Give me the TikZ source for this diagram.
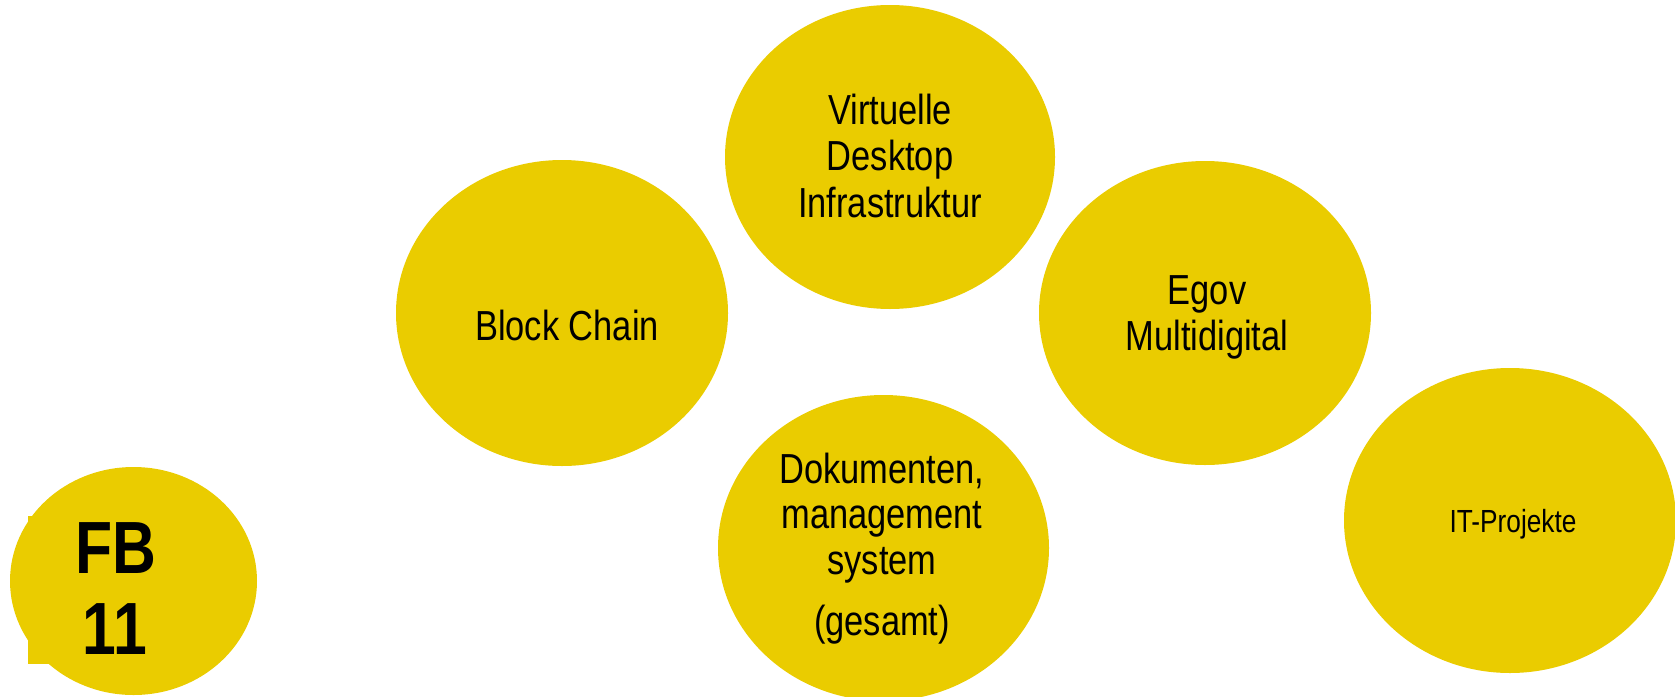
\documentclass[tikz,border=0pt]{standalone}
\usepackage{fontspec}
\setmainfont{Liberation Sans}[FakeStretch=0.82]
\usetikzlibrary{shapes.geometric}
\definecolor{gold}{RGB}{234,204,0}
\tikzset{
  blob/.style={ellipse, fill=gold, draw=none, inner sep=0pt},
  lbl/.style={anchor=base, inner sep=0pt, font=\fontsize{42}{46}\selectfont},
  small/.style={anchor=base, inner sep=0pt, font=\fontsize{32}{36}\selectfont},
  big/.style={anchor=base, inner sep=0pt, font=\fontsize{74}{80}\selectfont\bfseries},
}
\begin{document}
\begin{tikzpicture}[x=1pt, y=-1pt]
\useasboundingbox (0,0) rectangle (1675,696);
\clip (0,0) rectangle (1675,696);
% FB 11
\fill[gold] (28,516) rectangle (200,664);
\node[blob, minimum width=247, minimum height=228] (fb) at (133.5,581) {};
\node[big] (fb1) at (116,573) {FB};
\node[big] (fb2) at (115,654) {11};
% Block Chain
\node[blob, minimum width=332, minimum height=306] (bc) at (562,313) {};
\node[lbl] (bct) at (567,340) {Block Chain};
% Virtuelle Desktop Infrastruktur
\node[blob, minimum width=330, minimum height=304] (vdi) at (890,157) {};
\node[lbl] (vdi1) at (890,124) {Virtuelle};
\node[lbl] (vdi2) at (890,170) {Desktop};
\node[lbl] (vdi3) at (890,217) {Infrastruktur};
% Egov Multidigital
\node[blob, minimum width=332, minimum height=304] (egov) at (1205,313) {};
\node[lbl] (egov1) at (1207,304) {Egov};
\node[lbl] (egov2) at (1207,350) {Multidigital};
% Dokumentenmanagement
\node[blob, minimum width=331, minimum height=306] (dms) at (883.5,548) {};
\node[lbl] (dms1) at (882,483) {Dokumenten,};
\node[lbl] (dms2) at (882,528) {management};
\node[lbl] (dms3) at (882,574) {system};
\node[lbl] (dms4) at (882,635) {(gesamt)};
% IT-Projekte
\node[blob, minimum width=332, minimum height=305] (itp) at (1510,520.5) {};
\node[small] (itpt) at (1513,532) {IT-Projekte};
\end{tikzpicture}
\end{document}
